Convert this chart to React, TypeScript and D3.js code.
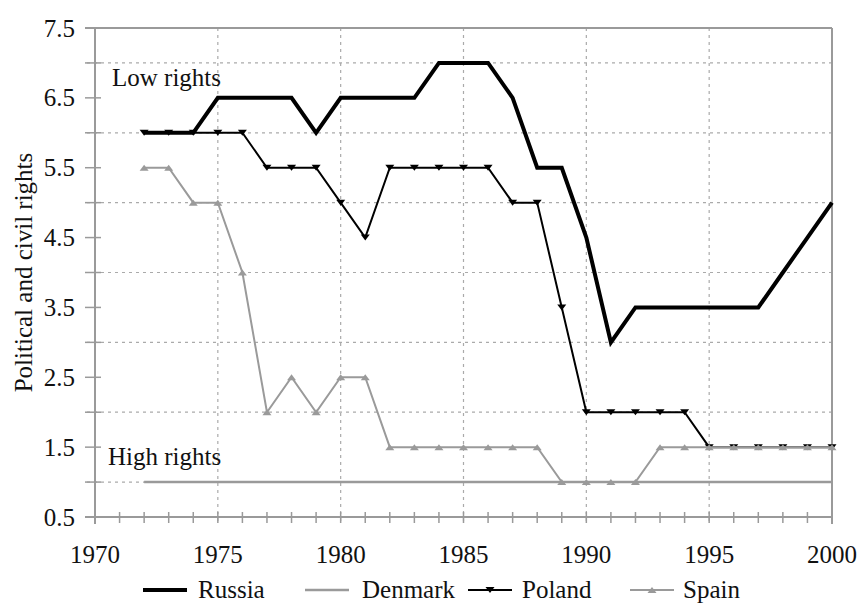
import React from 'react';
import * as d3 from 'd3';

const years = d3.range(1972, 2001);
const russia = [6, 6, 6, 6.5, 6.5, 6.5, 6.5, 6, 6.5, 6.5, 6.5, 6.5, 7, 7, 7, 6.5, 5.5, 5.5, 4.5, 3, 3.5, 3.5, 3.5, 3.5, 3.5, 3.5, 4, 4.5, 5];
const denmark = [1, 1, 1, 1, 1, 1, 1, 1, 1, 1, 1, 1, 1, 1, 1, 1, 1, 1, 1, 1, 1, 1, 1, 1, 1, 1, 1, 1, 1];
const poland = [6, 6, 6, 6, 6, 5.5, 5.5, 5.5, 5, 4.5, 5.5, 5.5, 5.5, 5.5, 5.5, 5, 5, 3.5, 2, 2, 2, 2, 2, 1.5, 1.5, 1.5, 1.5, 1.5, 1.5];
const spain = [5.5, 5.5, 5, 5, 4, 2, 2.5, 2, 2.5, 2.5, 1.5, 1.5, 1.5, 1.5, 1.5, 1.5, 1.5, 1, 1, 1, 1, 1.5, 1.5, 1.5, 1.5, 1.5, 1.5, 1.5, 1.5];
const yTickLabels = [0.5, 1.5, 2.5, 3.5, 4.5, 5.5, 6.5, 7.5];
const yGrid = [1, 2, 3, 4, 5, 6, 7];
const xTickLabels = [1970, 1975, 1980, 1985, 1990, 1995, 2000];

const width = 860;
const height = 604;
const margin = { top: 28, right: 28, bottom: 87, left: 95 };
const textStyle = { fontFamily: "'Liberation Serif', 'DejaVu Serif', serif", fontSize: '25px' };
const axisGray = '#9a9a9a';

const App = () => {
  const x = d3.scaleLinear().domain([1970, 2000]).range([margin.left, width - margin.right]);
  const y = d3.scaleLinear().domain([0.5, 7.5]).range([height - margin.bottom, margin.top]);
  const line = (vals: number[]) =>
    d3.line<number>().x((_, i) => x(years[i])).y(d => y(d))(vals) || '';

  const x0 = x(1970), x1 = x(2000), y0 = y(0.5), y1 = y(7.5);
  const tri = (cx: number, cy: number, down: boolean) => {
    const w = 4.5, h = 6;
    return down
      ? `M${cx - w},${cy - h / 2}L${cx + w},${cy - h / 2}L${cx},${cy + h / 2}Z`
      : `M${cx - w},${cy + h / 2}L${cx + w},${cy + h / 2}L${cx},${cy - h / 2}Z`;
  };

  const legend = [
    { name: 'Russia', color: '#000', sw: 4, marker: null, lx: 143, tx: 198 },
    { name: 'Denmark', color: axisGray, sw: 2.5, marker: null, lx: 305, tx: 362 },
    { name: 'Poland', color: '#000', sw: 2, marker: 'down', lx: 468, tx: 522 },
    { name: 'Spain', color: axisGray, sw: 2, marker: 'up', lx: 630, tx: 683 },
  ];

  return (
    <svg width={width} height={height} style={{ position: 'absolute', left: 0, top: 0, background: '#fff' }}>
      {/* grid */}
      {yGrid.map(v => (
        <line key={'g' + v} x1={x0 - 8} x2={x1} y1={y(v)} y2={y(v)} stroke="#aaa" strokeWidth={1.2} strokeDasharray="3,4" />
      ))}
      {xTickLabels.slice(1, -1).map(v => (
        <line key={'v' + v} x1={x(v)} x2={x(v)} y1={y1} y2={y0 + 7} stroke="#aaa" strokeWidth={1.2} strokeDasharray="3,4" />
      ))}
      {/* frame */}
      <line x1={x0 - 10} x2={x1} y1={y1} y2={y1} stroke={axisGray} strokeWidth={2} />
      <line x1={x1} x2={x1} y1={y1} y2={y0 + 7} stroke={axisGray} strokeWidth={2} />
      <line x1={x0} x2={x0} y1={y1} y2={y0 + 7} stroke={axisGray} strokeWidth={2} />
      <line x1={x0 - 10} x2={x1} y1={y0} y2={y0} stroke={axisGray} strokeWidth={2} />
      {/* y ticks */}
      {d3.range(0.5, 7.51, 0.5).map(v => (
        <line key={'yt' + v} x1={x0 - 10} x2={x0 + 6} y1={y(v)} y2={y(v)} stroke={axisGray} strokeWidth={1.5} />
      ))}
      {/* x ticks */}
      {d3.range(1971, 2000).map(v => (
        <line key={'xt' + v} x1={x(v)} x2={x(v)} y1={y0 - 5} y2={y0 + 6} stroke={axisGray} strokeWidth={1.5} />
      ))}
      {yTickLabels.map(v => (
        <text key={'yl' + v} x={x0 - 20} y={y(v)} dy="0.34em" textAnchor="end" style={textStyle} fill="#111">{v.toFixed(1)}</text>
      ))}
      {xTickLabels.map(v => (
        <text key={'xl' + v} x={x(v)} y={y0 + 46} textAnchor="middle" style={textStyle} fill="#111">{v}</text>
      ))}
      <text transform={`translate(32,${(y0 + y1) / 2}) rotate(-90)`} textAnchor="middle" style={textStyle} fill="#111">
        Political and civil rights
      </text>
      <text x={112} y={y(6.67)} style={textStyle} fill="#111">Low rights</text>
      <text x={108} y={y(1.25)} style={textStyle} fill="#111">High rights</text>

      {/* series */}
      <path d={line(russia)} fill="none" stroke="#000" strokeWidth={4} strokeLinejoin="miter" />
      <path d={line(denmark)} fill="none" stroke={axisGray} strokeWidth={2.5} />
      <path d={line(poland)} fill="none" stroke="#000" strokeWidth={2} />
      {poland.map((v, i) => <path key={'pm' + i} d={tri(x(years[i]), y(v), true)} fill="#000" />)}
      <path d={line(spain)} fill="none" stroke={axisGray} strokeWidth={2} />
      {spain.map((v, i) => <path key={'sm' + i} d={tri(x(years[i]), y(v), false)} fill={axisGray} />)}

      {/* legend */}
      {legend.map(l => (
        <g key={l.name}>
          <line x1={l.lx} x2={l.lx + 44} y1={590} y2={590} stroke={l.color} strokeWidth={l.sw} />
          {l.marker && <path d={tri(l.lx + 22, 590, l.marker === 'down')} fill={l.color} />}
          <text x={l.tx} y={598} style={textStyle} fill="#111">{l.name}</text>
        </g>
      ))}
    </svg>
  );
};

export default App;
